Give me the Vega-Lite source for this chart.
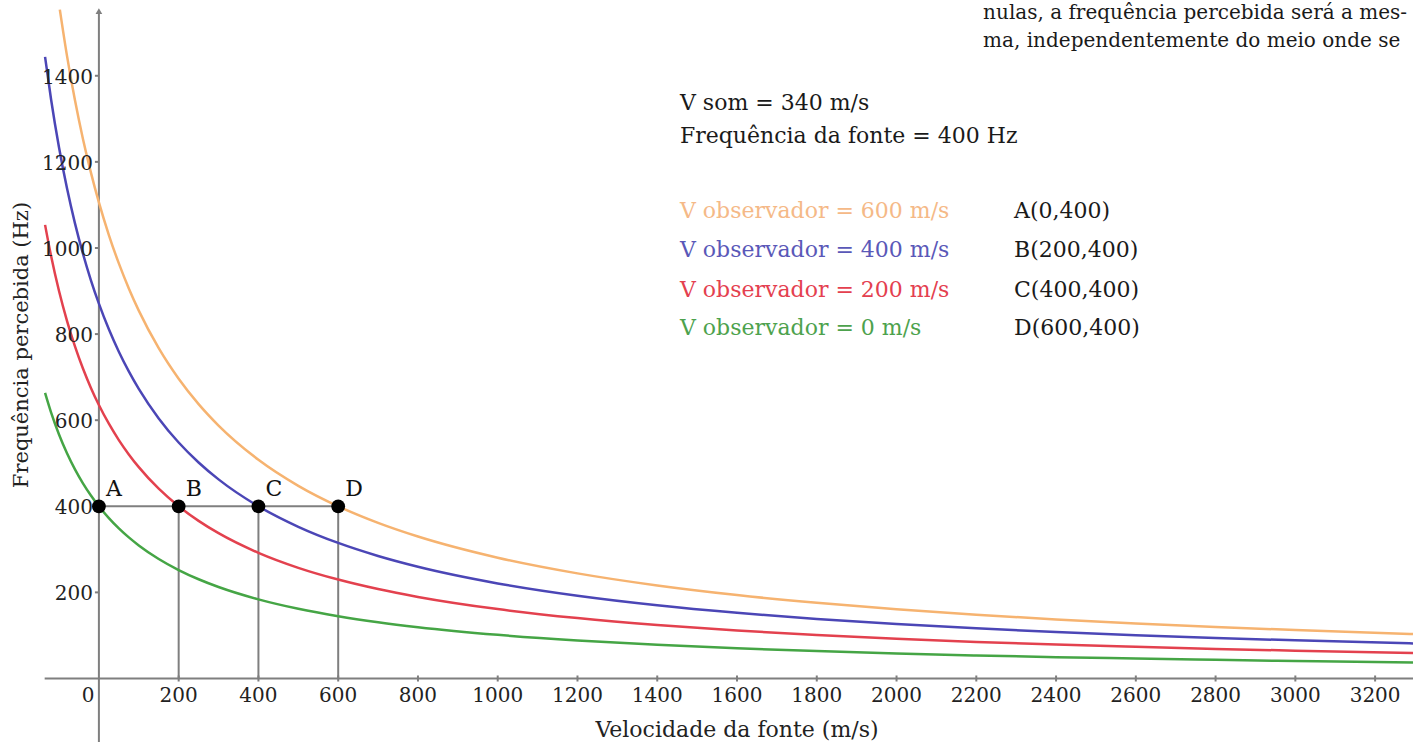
{
  "$schema": "https://vega.github.io/schema/vega-lite/v6.json",
  "width": 1413,
  "height": 742,
  "autosize": {"type": "none"},
  "padding": 0,
  "background": "white",
  "config": {"view": {"stroke": null}, "text": {"font": "DejaVu Serif"}},
  "datasets": {
    "segments": [
      {"x1": 0, "x2": 0, "y1": -147.5, "y2": 1545},
      {"x1": -136, "x2": 3295, "y1": 0, "y2": 0},
      {"x1": 0, "x2": 600, "y1": 400, "y2": 400},
      {"x1": 200, "x2": 200, "y1": 0, "y2": 400},
      {"x1": 400, "x2": 400, "y1": 0, "y2": 400},
      {"x1": 600, "x2": 600, "y1": 0, "y2": 400},
      {"x1": 200, "x2": 200, "y1": -7, "y2": 7}, {"x1": 400, "x2": 400, "y1": -7, "y2": 7}, {"x1": 600, "x2": 600, "y1": -7, "y2": 7}, {"x1": 800, "x2": 800, "y1": -7, "y2": 7},
      {"x1": 1000, "x2": 1000, "y1": -7, "y2": 7}, {"x1": 1200, "x2": 1200, "y1": -7, "y2": 7}, {"x1": 1400, "x2": 1400, "y1": -7, "y2": 7}, {"x1": 1600, "x2": 1600, "y1": -7, "y2": 7},
      {"x1": 1800, "x2": 1800, "y1": -7, "y2": 7}, {"x1": 2000, "x2": 2000, "y1": -7, "y2": 7}, {"x1": 2200, "x2": 2200, "y1": -7, "y2": 7}, {"x1": 2400, "x2": 2400, "y1": -7, "y2": 7},
      {"x1": 2600, "x2": 2600, "y1": -7, "y2": 7}, {"x1": 2800, "x2": 2800, "y1": -7, "y2": 7}, {"x1": 3000, "x2": 3000, "y1": -7, "y2": 7}, {"x1": 3200, "x2": 3200, "y1": -7, "y2": 7},
      {"x1": -10, "x2": 0, "y1": 200, "y2": 200}, {"x1": -10, "x2": 0, "y1": 400, "y2": 400}, {"x1": -10, "x2": 0, "y1": 600, "y2": 600}, {"x1": -10, "x2": 0, "y1": 800, "y2": 800},
      {"x1": -10, "x2": 0, "y1": 1000, "y2": 1000}, {"x1": -10, "x2": 0, "y1": 1200, "y2": 1200}, {"x1": -10, "x2": 0, "y1": 1400, "y2": 1400}
    ],
    "arrow": [{"x": 0, "y": 1550}],
    "curves": [
      {"vs": -98, "f": 1553.7, "obs": "600"}, {"vs": -80, "f": 1446.2, "obs": "600"}, {"vs": -60, "f": 1342.9, "obs": "600"}, {"vs": -40, "f": 1253.3, "obs": "600"}, {"vs": -20, "f": 1175.0, "obs": "600"}, {"vs": 0, "f": 1105.9, "obs": "600"}, {"vs": 25, "f": 1030.1, "obs": "600"}, {"vs": 50, "f": 964.1, "obs": "600"}, {"vs": 75, "f": 906.0, "obs": "600"}, {"vs": 100, "f": 854.5, "obs": "600"}, {"vs": 150, "f": 767.3, "obs": "600"}, {"vs": 200, "f": 696.3, "obs": "600"}, {"vs": 250, "f": 637.3, "obs": "600"}, {"vs": 300, "f": 587.5, "obs": "600"}, {"vs": 400, "f": 508.1, "obs": "600"}, {"vs": 500, "f": 447.6, "obs": "600"}, {"vs": 600, "f": 400.0, "obs": "600"}, {"vs": 700, "f": 361.5, "obs": "600"}, {"vs": 800, "f": 329.8, "obs": "600"}, {"vs": 1000, "f": 280.6, "obs": "600"}, {"vs": 1200, "f": 244.2, "obs": "600"}, {"vs": 1400, "f": 216.1, "obs": "600"}, {"vs": 1600, "f": 193.8, "obs": "600"}, {"vs": 1800, "f": 175.7, "obs": "600"}, {"vs": 2000, "f": 160.7, "obs": "600"}, {"vs": 2200, "f": 148.0, "obs": "600"}, {"vs": 2400, "f": 137.2, "obs": "600"}, {"vs": 2600, "f": 127.9, "obs": "600"}, {"vs": 2800, "f": 119.7, "obs": "600"}, {"vs": 3000, "f": 112.6, "obs": "600"}, {"vs": 3295, "f": 103.4, "obs": "600"},
      {"vs": -135, "f": 1443.9, "obs": "400"}, {"vs": -120, "f": 1345.5, "obs": "400"}, {"vs": -100, "f": 1233.3, "obs": "400"}, {"vs": -80, "f": 1138.5, "obs": "400"}, {"vs": -60, "f": 1057.1, "obs": "400"}, {"vs": -40, "f": 986.7, "obs": "400"}, {"vs": -20, "f": 925.0, "obs": "400"}, {"vs": 0, "f": 870.6, "obs": "400"}, {"vs": 25, "f": 811.0, "obs": "400"}, {"vs": 50, "f": 759.0, "obs": "400"}, {"vs": 75, "f": 713.3, "obs": "400"}, {"vs": 100, "f": 672.7, "obs": "400"}, {"vs": 150, "f": 604.1, "obs": "400"}, {"vs": 200, "f": 548.1, "obs": "400"}, {"vs": 250, "f": 501.7, "obs": "400"}, {"vs": 300, "f": 462.5, "obs": "400"}, {"vs": 400, "f": 400.0, "obs": "400"}, {"vs": 500, "f": 352.4, "obs": "400"}, {"vs": 600, "f": 314.9, "obs": "400"}, {"vs": 700, "f": 284.6, "obs": "400"}, {"vs": 800, "f": 259.6, "obs": "400"}, {"vs": 1000, "f": 220.9, "obs": "400"}, {"vs": 1200, "f": 192.2, "obs": "400"}, {"vs": 1400, "f": 170.1, "obs": "400"}, {"vs": 1600, "f": 152.6, "obs": "400"}, {"vs": 1800, "f": 138.3, "obs": "400"}, {"vs": 2000, "f": 126.5, "obs": "400"}, {"vs": 2200, "f": 116.5, "obs": "400"}, {"vs": 2400, "f": 108.0, "obs": "400"}, {"vs": 2600, "f": 100.7, "obs": "400"}, {"vs": 2800, "f": 94.3, "obs": "400"}, {"vs": 3000, "f": 88.6, "obs": "400"}, {"vs": 3295, "f": 81.4, "obs": "400"},
      {"vs": -135, "f": 1053.7, "obs": "200"}, {"vs": -120, "f": 981.8, "obs": "200"}, {"vs": -100, "f": 900.0, "obs": "200"}, {"vs": -80, "f": 830.8, "obs": "200"}, {"vs": -60, "f": 771.4, "obs": "200"}, {"vs": -40, "f": 720.0, "obs": "200"}, {"vs": -20, "f": 675.0, "obs": "200"}, {"vs": 0, "f": 635.3, "obs": "200"}, {"vs": 25, "f": 591.8, "obs": "200"}, {"vs": 50, "f": 553.8, "obs": "200"}, {"vs": 75, "f": 520.5, "obs": "200"}, {"vs": 100, "f": 490.9, "obs": "200"}, {"vs": 150, "f": 440.8, "obs": "200"}, {"vs": 200, "f": 400.0, "obs": "200"}, {"vs": 250, "f": 366.1, "obs": "200"}, {"vs": 300, "f": 337.5, "obs": "200"}, {"vs": 400, "f": 291.9, "obs": "200"}, {"vs": 500, "f": 257.1, "obs": "200"}, {"vs": 600, "f": 229.8, "obs": "200"}, {"vs": 700, "f": 207.7, "obs": "200"}, {"vs": 800, "f": 189.5, "obs": "200"}, {"vs": 1000, "f": 161.2, "obs": "200"}, {"vs": 1200, "f": 140.3, "obs": "200"}, {"vs": 1400, "f": 124.1, "obs": "200"}, {"vs": 1600, "f": 111.3, "obs": "200"}, {"vs": 1800, "f": 100.9, "obs": "200"}, {"vs": 2000, "f": 92.3, "obs": "200"}, {"vs": 2200, "f": 85.0, "obs": "200"}, {"vs": 2400, "f": 78.8, "obs": "200"}, {"vs": 2600, "f": 73.5, "obs": "200"}, {"vs": 2800, "f": 68.8, "obs": "200"}, {"vs": 3000, "f": 64.7, "obs": "200"}, {"vs": 3295, "f": 59.4, "obs": "200"},
      {"vs": -135, "f": 663.4, "obs": "0"}, {"vs": -120, "f": 618.2, "obs": "0"}, {"vs": -100, "f": 566.7, "obs": "0"}, {"vs": -80, "f": 523.1, "obs": "0"}, {"vs": -60, "f": 485.7, "obs": "0"}, {"vs": -40, "f": 453.3, "obs": "0"}, {"vs": -20, "f": 425.0, "obs": "0"}, {"vs": 0, "f": 400.0, "obs": "0"}, {"vs": 25, "f": 372.6, "obs": "0"}, {"vs": 50, "f": 348.7, "obs": "0"}, {"vs": 75, "f": 327.7, "obs": "0"}, {"vs": 100, "f": 309.1, "obs": "0"}, {"vs": 150, "f": 277.6, "obs": "0"}, {"vs": 200, "f": 251.9, "obs": "0"}, {"vs": 250, "f": 230.5, "obs": "0"}, {"vs": 300, "f": 212.5, "obs": "0"}, {"vs": 400, "f": 183.8, "obs": "0"}, {"vs": 500, "f": 161.9, "obs": "0"}, {"vs": 600, "f": 144.7, "obs": "0"}, {"vs": 700, "f": 130.8, "obs": "0"}, {"vs": 800, "f": 119.3, "obs": "0"}, {"vs": 1000, "f": 101.5, "obs": "0"}, {"vs": 1200, "f": 88.3, "obs": "0"}, {"vs": 1400, "f": 78.2, "obs": "0"}, {"vs": 1600, "f": 70.1, "obs": "0"}, {"vs": 1800, "f": 63.6, "obs": "0"}, {"vs": 2000, "f": 58.1, "obs": "0"}, {"vs": 2200, "f": 53.5, "obs": "0"}, {"vs": 2400, "f": 49.6, "obs": "0"}, {"vs": 2600, "f": 46.3, "obs": "0"}, {"vs": 2800, "f": 43.3, "obs": "0"}, {"vs": 3000, "f": 40.7, "obs": "0"}, {"vs": 3295, "f": 37.4, "obs": "0"}
    ],
    "points": [
      {"vs": 0, "f": 400, "name": "A"},
      {"vs": 200, "f": 400, "name": "B"},
      {"vs": 400, "f": 400, "name": "C"},
      {"vs": 600, "f": 400, "name": "D"}
    ],
    "notes": [
      {"x": -27.3, "y": -54.6, "label": "0", "grp": "xtick"},
      {"x": 200, "y": -54.6, "label": "200", "grp": "xtick"}, {"x": 400, "y": -54.6, "label": "400", "grp": "xtick"}, {"x": 600, "y": -54.6, "label": "600", "grp": "xtick"}, {"x": 800, "y": -54.6, "label": "800", "grp": "xtick"},
      {"x": 1000, "y": -54.6, "label": "1000", "grp": "xtick"}, {"x": 1200, "y": -54.6, "label": "1200", "grp": "xtick"}, {"x": 1400, "y": -54.6, "label": "1400", "grp": "xtick"}, {"x": 1600, "y": -54.6, "label": "1600", "grp": "xtick"},
      {"x": 1800, "y": -54.6, "label": "1800", "grp": "xtick"}, {"x": 2000, "y": -54.6, "label": "2000", "grp": "xtick"}, {"x": 2200, "y": -54.6, "label": "2200", "grp": "xtick"}, {"x": 2400, "y": -54.6, "label": "2400", "grp": "xtick"},
      {"x": 2600, "y": -54.6, "label": "2600", "grp": "xtick"}, {"x": 2800, "y": -54.6, "label": "2800", "grp": "xtick"}, {"x": 3000, "y": -54.6, "label": "3000", "grp": "xtick"}, {"x": 3200, "y": -54.6, "label": "3200", "grp": "xtick"},
      {"x": 1600, "y": -135.6, "label": "Velocidade da fonte (m/s)", "grp": "xtitle"},
      {"x": 0, "y": 200, "label": "200", "grp": "ytick"}, {"x": 0, "y": 400, "label": "400", "grp": "ytick"}, {"x": 0, "y": 600, "label": "600", "grp": "ytick"}, {"x": 0, "y": 800, "label": "800", "grp": "ytick"},
      {"x": 0, "y": 1000, "label": "1000", "grp": "ytick"}, {"x": 0, "y": 1200, "label": "1200", "grp": "ytick"}, {"x": 0, "y": 1400, "label": "1400", "grp": "ytick"},
      {"x": -177.8, "y": 774.6, "label": "Frequência percebida (Hz)", "grp": "ytitle"},
      {"x": 1457, "y": 1320.5, "label": "V som = 340 m/s", "grp": "dark"},
      {"x": 1457, "y": 1243.8, "label": "Frequência da fonte = 400 Hz", "grp": "dark"},
      {"x": 1457, "y": 1069.6, "label": "V observador = 600 m/s", "grp": "600"},
      {"x": 1457, "y": 980.2, "label": "V observador = 400 m/s", "grp": "400"},
      {"x": 1457, "y": 886.1, "label": "V observador = 200 m/s", "grp": "200"},
      {"x": 1457, "y": 797.9, "label": "V observador = 0 m/s", "grp": "0"},
      {"x": 2294.6, "y": 1069.6, "label": "A(0,400)", "grp": "dark"},
      {"x": 2294.6, "y": 980.2, "label": "B(200,400)", "grp": "dark"},
      {"x": 2294.6, "y": 886.1, "label": "C(400,400)", "grp": "dark"},
      {"x": 2294.6, "y": 797.9, "label": "D(600,400)", "grp": "dark"},
      {"x": 2217.1, "y": 1532, "label": "nulas, a frequência percebida será a mes-", "grp": "top"},
      {"x": 2217.1, "y": 1466.9, "label": "ma, independentemente do meio onde se", "grp": "top"}
    ]
  },
  "layer": [
    {
      "data": {"name": "segments"},
      "mark": {"type": "rule", "color": "#7f7f7f", "strokeWidth": 2},
      "encoding": {
        "x": {"field": "x1", "type": "quantitative", "scale": {"domain": [-248, 3295], "nice": false, "zero": false}, "axis": null},
        "x2": {"field": "x2"},
        "y": {"field": "y1", "type": "quantitative", "scale": {"domain": [-147.5, 1576], "nice": false, "zero": false}, "axis": null},
        "y2": {"field": "y2"}
      }
    },
    {
      "data": {"name": "arrow"},
      "mark": {"type": "point", "shape": "triangle-up", "filled": true, "color": "#7f7f7f", "size": 45, "opacity": 1},
      "encoding": {"x": {"field": "x", "type": "quantitative"}, "y": {"field": "y", "type": "quantitative"}}
    },
    {
      "data": {"name": "curves"},
      "mark": {"type": "line", "strokeWidth": 2.5, "interpolate": "monotone", "clip": true},
      "encoding": {
        "x": {"field": "vs", "type": "quantitative"},
        "y": {"field": "f", "type": "quantitative"},
        "color": {"field": "obs", "type": "nominal", "scale": {"domain": ["600", "400", "200", "0"], "range": ["#F6B370", "#4B46B6", "#E3414E", "#45A545"]}, "legend": null},
        "order": {"field": "vs", "type": "quantitative"}
      }
    },
    {
      "data": {"name": "points"},
      "mark": {"type": "point", "filled": true, "color": "#000000", "size": 190, "opacity": 1},
      "encoding": {"x": {"field": "vs", "type": "quantitative"}, "y": {"field": "f", "type": "quantitative"}}
    },
    {
      "data": {"name": "points"},
      "mark": {"type": "text", "align": "left", "baseline": "alphabetic", "dx": 7, "dy": -10, "fontSize": 22, "color": "#111111"},
      "encoding": {"x": {"field": "vs", "type": "quantitative"}, "y": {"field": "f", "type": "quantitative"}, "text": {"field": "name", "type": "nominal"}}
    },
    {
      "data": {"name": "notes"},
      "transform": [{"filter": "datum.grp == 'xtick'"}],
      "mark": {"type": "text", "align": "center", "baseline": "alphabetic", "fontSize": 20, "color": "#222222"},
      "encoding": {"x": {"field": "x", "type": "quantitative"}, "y": {"field": "y", "type": "quantitative"}, "text": {"field": "label", "type": "nominal"}}
    },
    {
      "data": {"name": "notes"},
      "transform": [{"filter": "datum.grp == 'xtitle'"}],
      "mark": {"type": "text", "align": "center", "baseline": "alphabetic", "fontSize": 22, "color": "#222222"},
      "encoding": {"x": {"field": "x", "type": "quantitative"}, "y": {"field": "y", "type": "quantitative"}, "text": {"field": "label", "type": "nominal"}}
    },
    {
      "data": {"name": "notes"},
      "transform": [{"filter": "datum.grp == 'ytick'"}],
      "mark": {"type": "text", "align": "right", "baseline": "alphabetic", "fontSize": 20, "color": "#222222", "dx": -6, "dy": 8},
      "encoding": {"x": {"field": "x", "type": "quantitative"}, "y": {"field": "y", "type": "quantitative"}, "text": {"field": "label", "type": "nominal"}}
    },
    {
      "data": {"name": "notes"},
      "transform": [{"filter": "datum.grp == 'ytitle'"}],
      "mark": {"type": "text", "align": "center", "baseline": "alphabetic", "angle": 270, "fontSize": 21, "color": "#222222"},
      "encoding": {"x": {"field": "x", "type": "quantitative"}, "y": {"field": "y", "type": "quantitative"}, "text": {"field": "label", "type": "nominal"}}
    },
    {
      "data": {"name": "notes"},
      "transform": [{"filter": "datum.grp == 'dark'"}],
      "mark": {"type": "text", "align": "left", "baseline": "alphabetic", "fontSize": 22, "color": "#1a1a1a"},
      "encoding": {"x": {"field": "x", "type": "quantitative"}, "y": {"field": "y", "type": "quantitative"}, "text": {"field": "label", "type": "nominal"}}
    },
    {
      "data": {"name": "notes"},
      "transform": [{"filter": "datum.grp == 'top'"}],
      "mark": {"type": "text", "align": "left", "baseline": "alphabetic", "fontSize": 20, "color": "#1a1a1a"},
      "encoding": {"x": {"field": "x", "type": "quantitative"}, "y": {"field": "y", "type": "quantitative"}, "text": {"field": "label", "type": "nominal"}}
    },
    {
      "data": {"name": "notes"},
      "transform": [{"filter": "datum.grp == '600'"}],
      "mark": {"type": "text", "align": "left", "baseline": "alphabetic", "fontSize": 22, "color": "#F5B987"},
      "encoding": {"x": {"field": "x", "type": "quantitative"}, "y": {"field": "y", "type": "quantitative"}, "text": {"field": "label", "type": "nominal"}}
    },
    {
      "data": {"name": "notes"},
      "transform": [{"filter": "datum.grp == '400'"}],
      "mark": {"type": "text", "align": "left", "baseline": "alphabetic", "fontSize": 22, "color": "#5A58B8"},
      "encoding": {"x": {"field": "x", "type": "quantitative"}, "y": {"field": "y", "type": "quantitative"}, "text": {"field": "label", "type": "nominal"}}
    },
    {
      "data": {"name": "notes"},
      "transform": [{"filter": "datum.grp == '200'"}],
      "mark": {"type": "text", "align": "left", "baseline": "alphabetic", "fontSize": 22, "color": "#E4404F"},
      "encoding": {"x": {"field": "x", "type": "quantitative"}, "y": {"field": "y", "type": "quantitative"}, "text": {"field": "label", "type": "nominal"}}
    },
    {
      "data": {"name": "notes"},
      "transform": [{"filter": "datum.grp == '0'"}],
      "mark": {"type": "text", "align": "left", "baseline": "alphabetic", "fontSize": 22, "color": "#4DA24D"},
      "encoding": {"x": {"field": "x", "type": "quantitative"}, "y": {"field": "y", "type": "quantitative"}, "text": {"field": "label", "type": "nominal"}}
    }
  ]
}
